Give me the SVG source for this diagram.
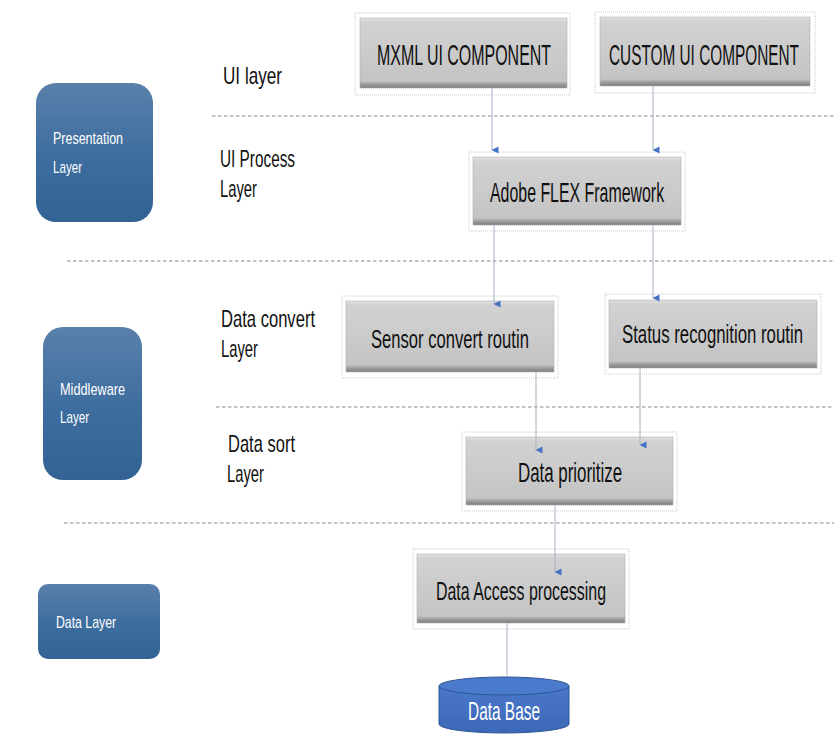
<svg xmlns="http://www.w3.org/2000/svg" width="834" height="745" viewBox="0 0 834 745">
<defs>
  <linearGradient id="blueG" x1="0" y1="0" x2="0" y2="1">
    <stop offset="0" stop-color="#5a80ab"/>
    <stop offset="0.5" stop-color="#3e6e9f"/>
    <stop offset="1" stop-color="#336395"/>
  </linearGradient>
  <linearGradient id="grayG" x1="0" y1="0" x2="0" y2="1">
    <stop offset="0" stop-color="#e2e2e2"/>
    <stop offset="0.06" stop-color="#d2d2d2"/>
    <stop offset="0.9" stop-color="#c4c4c4"/>
    <stop offset="0.94" stop-color="#a0a0a0"/>
    <stop offset="1" stop-color="#7c7c7c"/>
  </linearGradient>
  <linearGradient id="dbG" x1="0" y1="0" x2="0" y2="1">
    <stop offset="0" stop-color="#4a78c8"/>
    <stop offset="1" stop-color="#3c68b8"/>
  </linearGradient>
  <marker id="arr" viewBox="0 0 8 8" refX="4" refY="7" markerWidth="8" markerHeight="8" orient="auto-start-reverse" markerUnits="userSpaceOnUse">
    <path d="M0.5,0.5 L7.5,0.5 L4,7.5 Z" fill="#4472c4"/>
  </marker>
  <style>
    .blue { fill: url(#blueG); }
    .gray { fill: url(#grayG); stroke: #b0b0b0; stroke-width: 0.6; }
    .dot { fill: none; stroke: #c8c8c8; stroke-width: 1; stroke-dasharray: 1 1; }
    .dash { stroke: #b0b0b0; stroke-width: 1.3; stroke-dasharray: 3.5 2.5; fill: none; }
    .conn { stroke: #a6b2c8; stroke-width: 1; fill: none; }
    .lbl { font-family: "Liberation Sans", Arial, sans-serif; fill: #111; font-size: 23px; }
    .wt { font-family: "Liberation Sans", Arial, sans-serif; fill: #ffffff; }
    .bt { font-family: "Liberation Sans", Arial, sans-serif; fill: #111; }
  </style>
</defs>
<rect width="834" height="745" fill="#ffffff"/>

<g id="separators">
  <line class="dash" x1="212" y1="116" x2="834" y2="116"/>
  <line class="dash" x1="67" y1="261" x2="834" y2="261"/>
  <line class="dash" x1="216" y1="407" x2="834" y2="407"/>
  <line class="dash" x1="64" y1="523" x2="834" y2="523"/>
</g>

<g id="layer-labels">
  <text class="lbl" transform="translate(223,84) scale(0.745,1)" textLength="79.2" lengthAdjust="spacingAndGlyphs">UI layer</text>
  <text class="lbl" transform="translate(220,167) scale(0.667,1)" textLength="112.5" lengthAdjust="spacingAndGlyphs">UI Process</text>
  <text class="lbl" transform="translate(220,197) scale(0.643,1)" textLength="57.5" lengthAdjust="spacingAndGlyphs">Layer</text>
  <text class="lbl" transform="translate(221,327) scale(0.721,1)" textLength="130.4" lengthAdjust="spacingAndGlyphs">Data convert</text>
  <text class="lbl" transform="translate(221,357) scale(0.643,1)" textLength="57.5" lengthAdjust="spacingAndGlyphs">Layer</text>
  <text class="lbl" transform="translate(228,452) scale(0.718,1)" textLength="93.3" lengthAdjust="spacingAndGlyphs">Data sort</text>
  <text class="lbl" transform="translate(227,482) scale(0.643,1)" textLength="57.5" lengthAdjust="spacingAndGlyphs">Layer</text>
</g>

<g id="presentation-layer">
  <rect class="blue" x="36" y="83" width="117" height="139" rx="20"/>
  <text class="wt" font-size="16" transform="translate(53,144) scale(0.78,1)" textLength="89.8" lengthAdjust="spacingAndGlyphs">Presentation</text>
  <text class="wt" font-size="16" transform="translate(53,173) scale(0.725,1)" textLength="40" lengthAdjust="spacingAndGlyphs">Layer</text>
</g>

<g id="middleware-layer">
  <rect class="blue" x="43" y="327" width="99" height="153" rx="20"/>
  <text class="wt" font-size="16" transform="translate(60,395) scale(0.795,1)" textLength="81.8" lengthAdjust="spacingAndGlyphs">Middleware</text>
  <text class="wt" font-size="16" transform="translate(60,423) scale(0.725,1)" textLength="40" lengthAdjust="spacingAndGlyphs">Layer</text>
</g>

<g id="data-layer">
  <rect class="blue" x="38" y="584" width="122" height="75" rx="10"/>
  <text class="wt" font-size="16" transform="translate(56,628) scale(0.767,1)" textLength="78.3" lengthAdjust="spacingAndGlyphs">Data Layer</text>
</g>

<g id="mxml-ui-component">
  <rect class="dot" x="355" y="13" width="215" height="82"/>
  <rect class="gray" x="360" y="18" width="207" height="70"/>
  <text class="bt" font-size="30" transform="translate(377,65) scale(0.530,1)" textLength="328.4" lengthAdjust="spacingAndGlyphs">MXML UI COMPONENT</text>
</g>

<g id="custom-ui-component">
  <rect class="dot" x="595" y="12" width="220" height="81"/>
  <rect class="gray" x="600" y="17" width="210" height="69"/>
  <text class="bt" font-size="30" transform="translate(609,65) scale(0.511,1)" textLength="371.7" lengthAdjust="spacingAndGlyphs">CUSTOM UI COMPONENT</text>
</g>

<g id="adobe-flex-framework">
  <rect class="dot" x="469" y="152" width="216" height="79"/>
  <rect class="gray" x="473" y="157" width="208" height="68"/>
  <text class="bt" font-size="28" transform="translate(490,202) scale(0.568,1)" textLength="306.5" lengthAdjust="spacingAndGlyphs">Adobe FLEX Framework</text>
</g>

<g id="sensor-convert-routin">
  <rect class="dot" x="342" y="296" width="216" height="82"/>
  <rect class="gray" x="346" y="301" width="208" height="71"/>
  <text class="bt" font-size="26" transform="translate(371,348) scale(0.639,1)" textLength="247.1" lengthAdjust="spacingAndGlyphs">Sensor convert routin</text>
</g>

<g id="status-recognition-routin">
  <rect class="dot" x="605" y="294" width="216" height="80"/>
  <rect class="gray" x="609" y="300" width="208" height="68"/>
  <text class="bt" font-size="26" transform="translate(622,343) scale(0.6455,1)" textLength="280.4" lengthAdjust="spacingAndGlyphs">Status recognition routin</text>
</g>

<g id="data-prioritize">
  <rect class="dot" x="462" y="432" width="215" height="79"/>
  <rect class="gray" x="466" y="437" width="207" height="68"/>
  <text class="bt" font-size="27" transform="translate(518,482) scale(0.625,1)" textLength="166.5" lengthAdjust="spacingAndGlyphs">Data prioritize</text>
</g>

<g id="data-access-processing">
  <rect class="dot" x="413" y="549" width="216" height="80"/>
  <rect class="gray" x="417" y="554" width="208" height="69"/>
  <text class="bt" font-size="26" transform="translate(436,600) scale(0.6096,1)" textLength="278.9" lengthAdjust="spacingAndGlyphs">Data Access processing</text>
</g>

<g id="data-base">
  <path d="M439,686 L439,724 A65,9 0 0 0 569,724 L569,686 Z" fill="url(#dbG)" stroke="#2f5597" stroke-width="1"/>
  <ellipse cx="504" cy="686" rx="65" ry="9" fill="#4a7acb" stroke="#2f5597" stroke-width="1"/>
  <text class="wt" font-size="25" transform="translate(468,720) scale(0.617,1)" textLength="116.7" lengthAdjust="spacingAndGlyphs">Data Base</text>
</g>

<g id="connectors">
  <line class="conn" x1="492" y1="88" x2="492" y2="150" marker-end="url(#arr)"/>
  <line class="conn" x1="653" y1="86" x2="653" y2="150" marker-end="url(#arr)"/>
  <line class="conn" x1="494" y1="225" x2="494" y2="304" marker-end="url(#arr)"/>
  <line class="conn" x1="653" y1="225" x2="653" y2="298" marker-end="url(#arr)"/>
  <line class="conn" x1="536" y1="372" x2="536" y2="450" marker-end="url(#arr)"/>
  <line class="conn" x1="640" y1="368" x2="640" y2="445" marker-end="url(#arr)"/>
  <line class="conn" x1="555" y1="505" x2="555" y2="572" marker-end="url(#arr)"/>
  <line class="conn" x1="507" y1="623" x2="507" y2="677"/>
</g>
</svg>
